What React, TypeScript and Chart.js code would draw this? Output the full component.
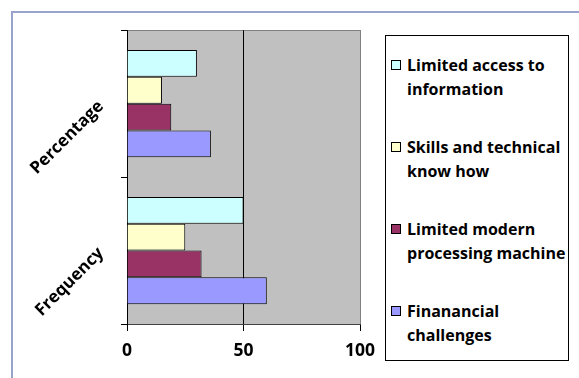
import React, { useEffect, useRef } from "react";
import { Chart, registerables } from "chart.js";

Chart.register(...registerables);

const categories = ["Percentage", "Frequency"];
const seriesNames = [
  ["Limited access to", "information"],
  ["Skills and technical", "know how"],
  ["Limited modern", "processing machine"],
  ["Finanancial", "challenges"],
];
const limitedAccess = [30, 50];
const skillsKnowHow = [15, 25];
const modernMachine = [19, 32];
const financial = [36, 60];
const seriesColors = ["#CCFFFF", "#FFFFCC", "#993366", "#9999FF"];
const xTicks = [0, 50, 100];

const FONT = "'Open Sans', 'Noto Sans', sans-serif";

const plotBg = {
  id: "plotBg",
  beforeDraw(chart: any) {
    const { ctx, chartArea } = chart;
    ctx.save();
    ctx.fillStyle = "#C0C0C0";
    ctx.fillRect(chartArea.left, chartArea.top, chartArea.right - chartArea.left, chartArea.bottom - chartArea.top);
    ctx.strokeStyle = "#808080";
    ctx.lineWidth = 1;
    ctx.strokeRect(
      Math.round(chartArea.left) + 0.5,
      Math.round(chartArea.top) + 0.5,
      Math.round(chartArea.right - chartArea.left),
      Math.round(chartArea.bottom - chartArea.top)
    );
    ctx.restore();
  },
};

export default function App() {
  const ref = useRef<HTMLCanvasElement | null>(null);

  useEffect(() => {
    if (!ref.current) return;
    const data = [limitedAccess, skillsKnowHow, modernMachine, financial];
    const chart = new Chart(ref.current, {
      type: "bar",
      data: {
        labels: categories,
        datasets: data.map((d, i) => ({
          label: seriesNames[i].join(" "),
          data: d,
          backgroundColor: seriesColors[i],
          borderColor: "#000000",
          borderWidth: 1,
          categoryPercentage: 0.73,
          barPercentage: 1,
        })),
      },
      options: {
        indexAxis: "y",
        responsive: false,
        animation: false,
        layout: { padding: { top: 22, right: 219, bottom: 0, left: 0 } },
        plugins: {
          legend: { display: false },
          tooltip: { enabled: false },
        },
        scales: {
          x: {
            type: "linear",
            min: 0,
            max: 100,
            afterBuildTicks: (scale: any) => {
              scale.ticks = xTicks.map((v) => ({ value: v }));
            },
            ticks: {
              color: "#000",
              font: { family: FONT, size: 17.5, weight: "bold" },
              padding: 10,
              maxRotation: 0,
            },
            grid: {
              color: (c: any) => (c.tick && c.tick.value === 50 ? "#000000" : "#808080"),
              tickColor: "#000000",
              tickLength: 7,
              lineWidth: 1,
            },
            border: { display: true, color: "#404040" },
            afterFit: (scale: any) => {
              scale.height = 54;
            },
          },
          y: {
            type: "category",
            offset: true,
            ticks: {
              color: "#000",
              font: { family: FONT, size: 17, weight: "bold" },
              minRotation: 45,
              maxRotation: 45,
              padding: 20,
            },
            grid: {
              offset: true,
              drawOnChartArea: false,
              color: "#000000",
              tickLength: 6,
            },
            border: { display: true, color: "#000000" },
            afterFit: (scale: any) => {
              scale.width = 127;
            },
          },
        },
      } as any,
      plugins: [plotBg],
    });
    return () => chart.destroy();
  }, []);

  return (
    <div style={{ position: "absolute", left: 0, top: 0, width: 579, height: 378, background: "#fff", overflow: "hidden" }}>
      <div
        style={{
          position: "absolute",
          left: 11,
          top: 11,
          width: 580,
          height: 380,
          borderTop: "2px solid #98A3CC",
          borderLeft: "2px solid #98A3CC",
          boxSizing: "border-box",
        }}
      />
      <canvas ref={ref} width={579} height={378} style={{ position: "absolute", left: 0, top: 0, width: 579, height: 378 }} />
      <div
        style={{
          position: "absolute",
          left: 385,
          top: 35,
          width: 184,
          height: 326,
          border: "1px solid #000",
          boxSizing: "border-box",
          background: "#fff",
          paddingTop: 17,
          fontFamily: FONT,
          fontWeight: 700,
          fontSize: 16,
          lineHeight: "24px",
          color: "#000",
          whiteSpace: "nowrap",
        }}
      >
        {seriesNames.map((lines, i) => (
          <div key={i} style={{ position: "relative", paddingLeft: 21, marginBottom: 34 }}>
            <span
              style={{
                position: "absolute",
                left: 5,
                top: 7,
                width: 10,
                height: 10,
                boxSizing: "border-box",
                border: "1px solid #000",
                background: seriesColors[i],
              }}
            />
            {lines.map((l, j) => (
              <div key={j}>{l}</div>
            ))}
          </div>
        ))}
      </div>
    </div>
  );
}
